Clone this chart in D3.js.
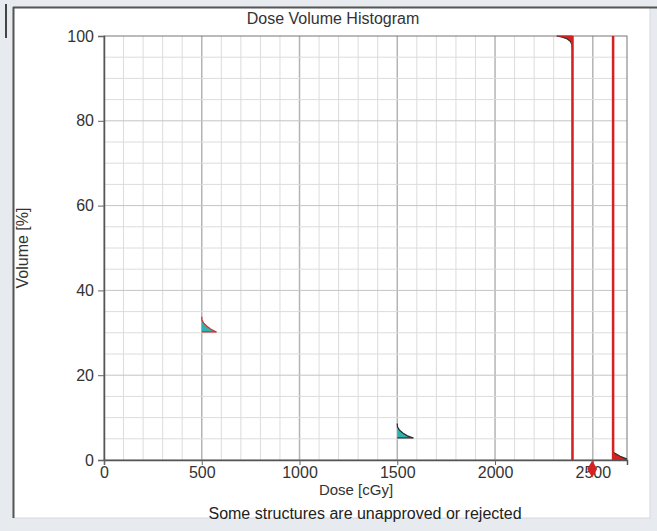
<!DOCTYPE html>
<html>
<head>
<meta charset="utf-8">
<script src="https://cdn.jsdelivr.net/npm/d3@7"></script>
<style>
  body { margin: 0; background: #e7eaef; }
  svg { display: block; font-family: "Liberation Sans", Arial, sans-serif; }
</style>
</head>
<body>
<svg id="chart" width="657" height="531"></svg>
<script>
// axis ticks
var doseTicks = [0, 500, 1000, 1500, 2000, 2500];
var volTicks = [0, 20, 40, 60, 80, 100];

// structure curves (dose in cGy, volume in %), upper / lower edge of the band
var ptvDose  = [500, 501, 510, 525, 545, 575];
var ptvUpper = [33.8, 33.0, 32.3, 31.6, 30.9, 30.2];
var ptvLower = [30.2, 30.2, 30.2, 30.2, 30.2, 30.2];

var cordDose  = [1500, 1501, 1512, 1530, 1552, 1582];
var cordUpper = [8.6, 7.8, 7.0, 6.3, 5.7, 5.2];
var cordLower = [5.2, 5.2, 5.2, 5.2, 5.2, 5.2];

var ctvDose  = [2316, 2345, 2370, 2386, 2394, 2396];
var ctvUpper = [100, 100, 100, 100, 100, 100];
var ctvLower = [100, 99.7, 99.3, 98.7, 97.9, 96.7];

var bodyDose  = [2604, 2604, 2620, 2640, 2660, 2675];
var bodyUpper = [2.8, 1.8, 1.4, 0.9, 0.5, 0.2];
var bodyLower = [0, 0, 0, 0, 0, 0];

// prescription / constraint lines and marker
var limitDoses = [2396, 2604];
var markerDose = [2497];

var svg = d3.select("#chart");

// panel
svg.append("rect").attr("x", 13).attr("y", 7).attr("width", 637).attr("height", 511)
  .attr("fill", "#fff").attr("stroke", "#d6d9de");
svg.append("line").attr("x1", 13).attr("x2", 657).attr("y1", 7.5).attr("y2", 7.5)
  .attr("stroke", "#555").attr("stroke-width", 2);
svg.append("line").attr("x1", 13.5).attr("x2", 13.5).attr("y1", 7).attr("y2", 518)
  .attr("stroke", "#555").attr("stroke-width", 2);
svg.append("line").attr("x1", 6).attr("x2", 6).attr("y1", 4).attr("y2", 38)
  .attr("stroke", "#444").attr("stroke-width", 2);

var x = d3.scaleLinear().domain([0, 2675]).range([104, 627]);
var y = d3.scaleLinear().domain([0, 100]).range([460, 36]);

// grid
var g = svg.append("g");
g.selectAll(".vminor").data(d3.range(100, 2675, 100)).enter().append("line")
  .attr("x1", function(d){ return x(d); }).attr("x2", function(d){ return x(d); })
  .attr("y1", y(0)).attr("y2", y(100))
  .attr("stroke", function(d){ return d % 500 == 0 ? "#b4b4b4" : "#dcdcdc"; })
  .attr("stroke-width", function(d){ return d % 500 == 0 ? 1.5 : 1; });
g.selectAll(".hminor").data(d3.range(5, 100, 5)).enter().append("line")
  .attr("x1", x(0)).attr("x2", x(2675))
  .attr("y1", function(d){ return y(d); }).attr("y2", function(d){ return y(d); })
  .attr("stroke", function(d){ return d % 20 == 0 ? "#c4c4c4" : "#dcdcdc"; });

// frame
svg.append("rect").attr("x", x(0)).attr("y", y(100))
  .attr("width", x(2675) - x(0)).attr("height", y(0) - y(100))
  .attr("fill", "none").attr("stroke", "#777");

// structures
function band(dose, upper, lower, fill, topStroke, botStroke) {
  var pts = dose.map(function(d, i){ return {d: d, u: upper[i], l: lower[i]}; });
  var area = d3.area().x(function(p){ return x(p.d); })
    .y0(function(p){ return y(p.l); }).y1(function(p){ return y(p.u); });
  svg.append("path").datum(pts).attr("d", area).attr("fill", fill);
  svg.append("path").datum(pts)
    .attr("d", d3.line().x(function(p){ return x(p.d); }).y(function(p){ return y(p.l); }))
    .attr("fill", "none").attr("stroke", botStroke).attr("stroke-width", 1.2);
  svg.append("path").datum(pts)
    .attr("d", d3.line().x(function(p){ return x(p.d); }).y(function(p){ return y(p.u); }))
    .attr("fill", "none").attr("stroke", topStroke).attr("stroke-width", 1.2);
}
band(ptvDose, ptvUpper, ptvLower, "#2fb3b0", "#e02a2a", "#b03030");
band(cordDose, cordUpper, cordLower, "#2fb3b0", "#2b2b2b", "#2b2b2b");
band(ctvDose, ctvUpper, ctvLower, "#d42222", "#d42222", "#2b2b2b");
band(bodyDose, bodyUpper, bodyLower, "#d42222", "#2b2b2b", "#d42222");

// limit lines
svg.selectAll(".limit").data(limitDoses).enter().append("line")
  .attr("x1", function(d){ return x(d); }).attr("x2", function(d){ return x(d); })
  .attr("y1", y(100)).attr("y2", y(0))
  .attr("stroke", "#d42222").attr("stroke-width", 2.5);

// axes
var yAxis = d3.axisLeft(y).tickValues(volTicks).tickSize(6).tickPadding(4).tickFormat(d3.format("d"));
var xAxis = d3.axisBottom(x).tickValues(doseTicks).tickSize(5).tickPadding(2).tickFormat(d3.format("d"));
var ya = svg.append("g").attr("transform", "translate(" + x(0) + ",0)").call(yAxis);
var xa = svg.append("g").attr("transform", "translate(0," + y(0) + ")").call(xAxis);
[ya, xa].forEach(function(a){
  a.select(".domain").attr("stroke", "#555").attr("stroke-width", 1.5);
  a.selectAll(".tick line").attr("stroke", "#666");
  a.selectAll("text").attr("fill", "#333").style("font-size", "16px")
    .style("font-family", "'Liberation Sans', Arial, sans-serif");
});

// marker
svg.selectAll(".marker").data(markerDose).enter().append("path")
  .attr("d", d3.symbol().type(d3.symbolDiamond).size(84))
  .attr("transform", function(d){ return "translate(" + x(d) + "," + (y(0) + 9) + ")"; })
  .attr("fill", "#d42222");

// texts
svg.append("text").attr("x", 333).attr("y", 24).attr("text-anchor", "middle")
  .style("font-size", "16px").attr("fill", "#333").text("Dose Volume Histogram");
svg.append("text").attr("x", 356).attr("y", 495).attr("text-anchor", "middle")
  .style("font-size", "15px").attr("fill", "#333").text("Dose [cGy]");
svg.append("text").attr("transform", "translate(28,248) rotate(-90)").attr("text-anchor", "middle")
  .style("font-size", "16px").attr("fill", "#333").text("Volume [%]");
svg.append("text").attr("x", 365).attr("y", 519).attr("text-anchor", "middle")
  .style("font-size", "16px").attr("fill", "#222").text("Some structures are unapproved or rejected");
</script>
</body>
</html>
